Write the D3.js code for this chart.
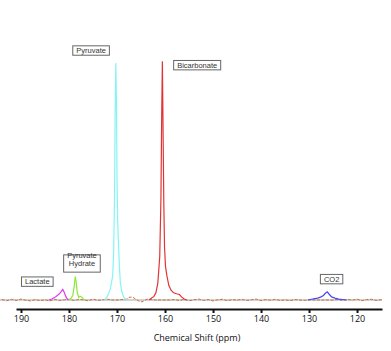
<!DOCTYPE html>
<html>
<head>
<meta charset="utf-8">
<script src="https://cdn.jsdelivr.net/npm/d3@7"></script>
<style>
  html, body { margin: 0; padding: 0; background: #fff; }
  svg { display: block; }
</style>
</head>
<body>
<div id="chart"></div>
<script>
// 13C spectrum — ppm / intensity pairs

const tickValues = [190, 180, 170, 160, 150, 140, 130, 120];

// background trace (baseline noise), ppm vs intensity
const noisePpm = [194, 193, 192, 191, 190, 189, 188, 187, 186, 185, 184, 183, 182, 181, 180, 179, 178, 177, 176, 175,
  174, 173, 172, 171, 170, 169, 168, 167.5, 167, 166.5, 166, 165.5, 165, 164.5, 164, 163.5, 163, 162, 161, 160, 159,
  158, 157, 156, 155, 154, 153, 152, 151, 150, 149, 148, 147, 146, 145, 144, 143, 142, 141, 140, 139, 138,
  137, 136, 135, 134, 133, 132, 131, 130, 129, 128, 127, 126, 125, 124, 123, 122, 121, 120, 119, 118, 117, 116, 115, 114];
const noiseVal = [0.2, -0.3, 0.3, -0.2, 0.4, -0.1, -0.4, 0.2, -0.3, 0.1, -0.4, 0.3, -0.2, 0.1, 0.3, -0.2, 0.2, 0.1, -0.3, 0.4,
  -0.2, 0.1, 0.3, 0.0, 0.0, 0.2, 0.3, 1.1, 1.2, 0.9, 0.2, -0.4, -0.8, -0.5, 0.1, 0.4, 0.2, 0.0, 0.0, 0.0, 0.0,
  0.2, -0.2, 0.3, -0.3, 0.1, 0.4, -0.2, 0.2, -0.4, 0.1, 0.3, -0.3, 0.2, -0.1, 0.3, -0.2, 0.1, 0.4, -0.3,
  0.2, -0.1, 0.3, -0.2, 0.1, -0.3, 0.2, 0.0, -0.2, 0.1, 0.0, 0.0, 0.0, 0.0, 0.0, 0.2, -0.2, 0.3, -0.1, 0.4, -0.3, 0.2, 0.3, -0.2, 0.1, 0.3];

const lactatePpm = [184.2, 183.6, 183.0, 182.5, 182.0, 181.6, 181.3, 181.0, 180.7, 180.4, 180.1];
const lactateVal = [0, 0.4, 1.0, 1.8, 2.6, 3.6, 4.4, 3.2, 1.6, 0.5, 0];

const hydratePpm = [180.1, 179.6, 179.2, 178.9, 178.7, 178.5, 178.3, 178.0, 177.7, 177.3, 176.9, 176.5];
const hydrateVal = [0, 0.6, 2.0, 6.0, 9.8, 7.5, 3.5, 1.0, 1.6, 1.2, 0.2, 0];

const pyruvatePpm = [172.6, 172.0, 171.4, 170.9, 170.7, 170.5, 170.4, 170.25, 170.1, 170.0, 169.85, 169.7, 169.5, 169.3, 169.0, 168.6, 168.0];
const pyruvateVal = [0, 1.5, 4.5, 10, 20, 45, 75, 98.7, 80, 50, 32, 24, 14, 7, 3.5, 1.2, 0];

const bicarbPpm = [163.3, 162.8, 162.3, 161.9, 161.5, 161.1, 160.85, 160.7, 160.55, 160.4, 160.25, 160.1, 159.9, 159.6, 159.2,
  158.7, 158.2, 157.6, 157.0, 156.5, 156.0, 155.5];
const bicarbVal = [0, 0.8, 1.5, 3, 7, 18, 42, 75, 99.5, 70, 40, 22, 14, 10, 6, 4, 3, 2.6, 2.3, 1.2, 0.4, 0];

const co2Ppm = [130.2, 129.5, 128.8, 128.2, 127.6, 127.0, 126.6, 126.2, 125.8, 125.3, 124.6, 123.8, 123.0, 122.2];
const co2Val = [0, 0.3, 0.6, 0.8, 1.2, 1.9, 2.8, 3.4, 2.4, 1.3, 0.8, 0.4, 0.2, 0];

const seriesNames = ['Lactate', 'Pyruvate Hydrate', 'Pyruvate', 'Bicarbonate', 'CO2'];
const seriesColors = ['#e23ce8', '#8ee83a', '#84f4f4', '#e03434', '#4848f0'];

// label anchors in data units (ppm, intensity)
const labelPpm = [186.6, 177.3, 175.4, 153.3, 125.3];
const labelVal = [7.7, 16.9, 104.0, 97.9, 8.75];

const zip = (xs, ys) => xs.map((x, i) => ({ ppm: x, v: ys[i] }));

const width = 391, height = 351;

const svg = d3.select('#chart').append('svg')
  .attr('width', width).attr('height', height);

const x = d3.scaleLinear().domain([191.04, 114.8]).range([16, 382]);
const y = d3.scaleLinear().domain([0, 100]).range([300, 60]);

const plot = svg.append('g');
plot.append('clipPath').attr('id', 'clip')
  .append('rect').attr('x', 0).attr('y', 0).attr('width', 382).attr('height', 306);

const traces = plot.append('g').attr('clip-path', 'url(#clip)');

// grey zero line
traces.append('line')
  .attr('x1', 0).attr('x2', 382)
  .attr('y1', y(0)).attr('y2', y(0))
  .attr('stroke', '#a8a8a8').attr('stroke-width', 1.2);

const line = d3.line().x(d => x(d.ppm)).y(d => y(d.v));

traces.append('path')
  .datum(zip(noisePpm, noiseVal))
  .attr('d', line)
  .attr('fill', 'none')
  .attr('stroke', '#c8703c')
  .attr('stroke-width', 1)
  .attr('stroke-dasharray', '3,1.5');

const peaks = [
  zip(lactatePpm, lactateVal),
  zip(hydratePpm, hydrateVal),
  zip(pyruvatePpm, pyruvateVal),
  zip(bicarbPpm, bicarbVal),
  zip(co2Ppm, co2Val)
];

traces.selectAll('.peak').data(peaks).enter().append('path')
  .attr('class', 'peak')
  .attr('d', line)
  .attr('fill', 'none')
  .attr('stroke', (_, i) => seriesColors[i])
  .attr('stroke-width', 1.2);

// labels in small boxes
const labels = plot.selectAll('.lbl').data(seriesNames).enter().append('g')
  .attr('class', 'lbl')
  .attr('transform', (_, i) => `translate(${x(labelPpm[i])},${y(labelVal[i])})`);

labels.each(function (name) {
  const g = d3.select(this);
  const parts = name === 'Pyruvate Hydrate' ? ['Pyruvate', 'Hydrate'] : [name];
  const t = g.append('text')
    .attr('text-anchor', 'middle')
    .attr('font-family', 'Liberation Sans, Arial, sans-serif')
    .attr('font-size', '7.5px')
    .attr('fill', '#333');
  parts.forEach((p, k) => {
    t.append('tspan').attr('x', 0).attr('dy', k === 0 ? '0.35em' : '1.05em').text(p);
  });
  if (parts.length > 1) t.attr('transform', 'translate(0,-3.9)');
  const bb = t.node().getBBox();
  g.insert('rect', 'text')
    .attr('x', bb.x - 3.5).attr('y', bb.y - 0.2)
    .attr('width', bb.width + 7).attr('height', bb.height + 0.4)
    .attr('fill', '#fff')
    .attr('stroke', '#666')
    .attr('stroke-width', 1);
});

// x axis
const axis = svg.append('g')
  .attr('transform', 'translate(0,309)')
  .call(d3.axisBottom(x).tickValues(tickValues).tickSize(4).tickSizeOuter(0).tickPadding(3));

axis.select('.domain').attr('stroke', '#111').attr('stroke-width', 2);
axis.selectAll('.tick line').attr('stroke', '#111').attr('stroke-width', 2);
axis.selectAll('.tick text')
  .attr('fill', '#111')
  .attr('font-size', '9px')
  .attr('font-family', 'Open Sans, Liberation Sans, sans-serif');

svg.append('text')
  .attr('x', 197).attr('y', 341)
  .attr('text-anchor', 'middle')
  .attr('font-size', '9px')
  .attr('font-family', 'Open Sans, Liberation Sans, sans-serif')
  .attr('fill', '#111')
  .text('Chemical Shift (ppm)');
</script>
</body>
</html>
